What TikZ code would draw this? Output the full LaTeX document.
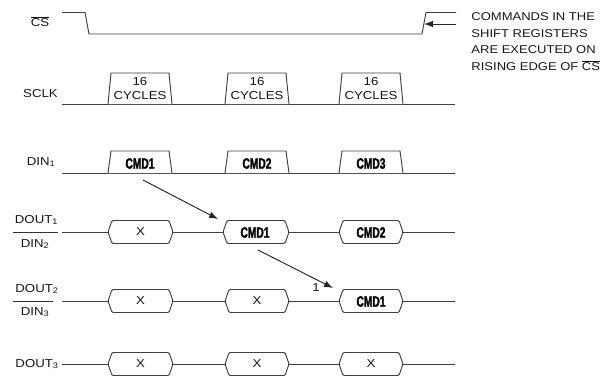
\documentclass[tikz,border=0pt]{standalone}
\usepackage{fontspec}
\setmainfont[FakeStretch=1.15]{Liberation Sans}
\newfontfamily\cmdfont[FakeStretch=0.68,FakeBold=1.6]{Liberation Sans}
\usetikzlibrary{arrows.meta}
\newcommand\pulsesig[4]{%
  \draw[sig, fill=white] (#1,#4) -- (#1+3,#3) -- (#2-3,#3) -- (#2,#4);}
\begin{document}
\begin{tikzpicture}[x=1pt,y=-1pt, line width=0.95pt,
  sig/.style={draw=black!75},
  lbl/.style={inner sep=0pt, font=\fontsize{11.5}{14}\selectfont, text=black!92},
  note/.style={inner sep=0pt, font=\fontsize{11.3}{14}\selectfont, text=black!92, anchor=base west},
  cmd/.style={inner sep=0pt, font=\cmdfont\bfseries\fontsize{15}{15}\selectfont, text=black},
  hexbox/.style={draw=black!75, fill=white, rounded corners=1.2pt},
  arr/.style={draw=black!85, -{Latex[length=9pt,width=6.5pt]}}]
\useasboundingbox (0,0) rectangle (602,376);

% CS
\draw[sig] (62,12.5) -- (85,12.5) -- (89,34) -- (422,34) -- (426,12.5) -- (456,12.5);
\node[lbl] (cs) at (40,22) {$\overline{\mbox{CS}}$};
\coordinate (csnote) at (456,24);
\coordinate (csedge) at (424,24);
\draw[arr] (csnote) -- (csedge);
\node[note] (n1) at (471,20) {COMMANDS IN THE};
\node[note] (n2) at (471,37) {SHIFT REGISTERS};
\node[note] (n3) at (471,53.5) {ARE EXECUTED ON};
\node[note] (n4) at (471,70.5) {RISING EDGE OF $\overline{\mbox{CS}}$};

% SCLK
\node[lbl] (sclk) at (40.5,94) {SCLK};
\draw[sig] (62,104) -- (455,104);
\foreach \a/\b/\n in {108/172/1, 225/289/2, 339/403/3} {
  \pulsesig{\a}{\b}{73}{104}
  \node[lbl, align=center] (cyc\n) at ({(\a+\b)/2},89) {16\\CYCLES};
}

% DIN1
\node[lbl] (din1) at (41,162) {DIN\textsubscript{1}};
\draw[sig] (62,173) -- (455,173);
\foreach \a/\b/\n in {108/172/1, 225/289/2, 339/403/3} {
  \pulsesig{\a}{\b}{151}{173}
  \node[cmd] (dincmd\n) at ({(\a+\b)/2},163.5) {CMD\n};
}

% DOUT1 / DIN2
\node[lbl] (dout1) at (36.5,220) {DOUT\textsubscript{1}};
\draw[line width=0.8pt, black!80] (13,232) -- (58,232);
\node[lbl] (din2) at (35,244) {DIN\textsubscript{2}};
\draw[sig] (62,232) -- (455,232);
\draw[hexbox] (108,232) -- (112,220.5) -- (169,220.5) -- (173,232) -- (169,243.5) -- (112,243.5) -- cycle;
\node[lbl] (r1x1) at (140.5,232) {X};
\draw[hexbox] (223,232) -- (227,220.5) -- (285,220.5) -- (289,232) -- (285,243.5) -- (227,243.5) -- cycle;
\node[cmd] (r1c1) at (255,232.5) {CMD1};
\draw[hexbox] (339,232) -- (343,220.5) -- (399,220.5) -- (403,232) -- (399,243.5) -- (343,243.5) -- cycle;
\node[cmd] (r1c2) at (371,232.5) {CMD2};

% DOUT2 / DIN3
\node[lbl] (dout2) at (37,289) {DOUT\textsubscript{2}};
\draw[line width=0.8pt, black!80] (13,301) -- (53,301);
\node[lbl] (din3) at (35,312) {DIN\textsubscript{3}};
\draw[sig] (62,301) -- (455,301);
\draw[hexbox] (108,301) -- (112,289.5) -- (169,289.5) -- (173,301) -- (169,312.5) -- (112,312.5) -- cycle;
\node[lbl] (r2x1) at (140.5,301) {X};
\draw[hexbox] (225,301) -- (229,289.5) -- (285,289.5) -- (289,301) -- (285,312.5) -- (229,312.5) -- cycle;
\node[lbl] (r2x2) at (257,301) {X};
\draw[hexbox] (339,301) -- (343,289.5) -- (399,289.5) -- (403,301) -- (399,312.5) -- (343,312.5) -- cycle;
\node[cmd] (r2c1) at (371,301.5) {CMD1};

% DOUT3
\node[lbl, anchor=west] (dout3) at (15,364) {DOUT\textsubscript{3}};
\draw[sig] (62,364) -- (455,364);
\draw[hexbox] (108,364) -- (112,352.5) -- (169,352.5) -- (173,364) -- (169,375.5) -- (112,375.5) -- cycle;
\node[lbl] (r3x1) at (140.5,364) {X};
\draw[hexbox] (225,364) -- (229,352.5) -- (285,352.5) -- (289,364) -- (285,375.5) -- (229,375.5) -- cycle;
\node[lbl] (r3x2) at (257,364) {X};
\draw[hexbox] (339,364) -- (343,352.5) -- (399,352.5) -- (403,364) -- (399,375.5) -- (343,375.5) -- cycle;
\node[lbl] (r3x3) at (371,364) {X};

% transfer arrows
\coordinate (a1s) at (143,180);
\coordinate (a1e) at (218,219);
\draw[arr] (a1s) -- (a1e);
\coordinate (a2s) at (258,250);
\coordinate (a2e) at (333,288);
\draw[arr] (a2s) -- (a2e);
\node[lbl] (one) at (316,288) {1};
\end{tikzpicture}
\end{document}
